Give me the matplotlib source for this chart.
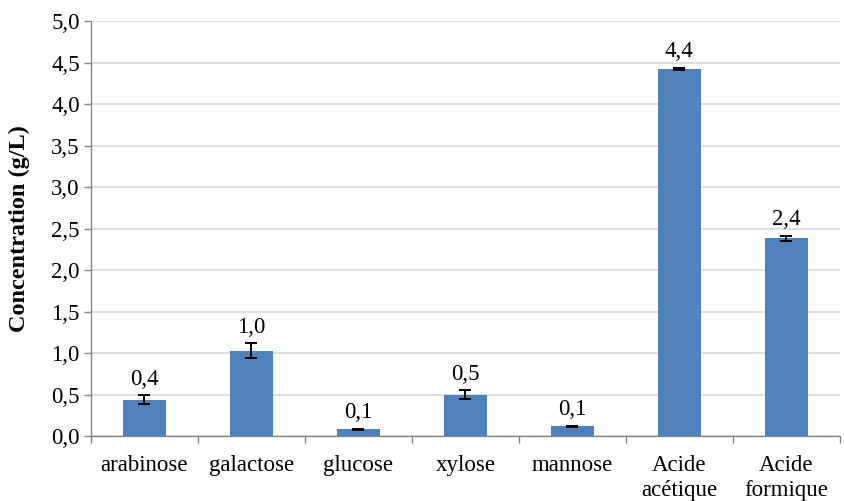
import matplotlib
matplotlib.use("Agg")
import matplotlib.pyplot as plt
import numpy as np

categories = ["arabinose", "galactose", "glucose", "xylose", "mannose", "Acide\nacétique", "Acide\nformique"]
values = [0.44, 1.03, 0.08, 0.50, 0.12, 4.42, 2.38]
errors = [0.05, 0.085, 0.006, 0.05, 0.006, 0.015, 0.03]
yticks = [0.0, 0.5, 1.0, 1.5, 2.0, 2.5, 3.0, 3.5, 4.0, 4.5, 5.0]

plt.rcParams['font.family'] = ['Liberation Serif', 'DejaVu Serif']
FS = 16.5

fig = plt.figure(figsize=(8.44, 5.01), dpi=100)
ax = fig.add_axes([0.1078, 0.1297, 0.995 - 0.1078, 0.958 - 0.1297])

x = np.arange(len(categories))
ax.bar(x, values, width=0.4, color="#4F81BD", zorder=3)
ax.errorbar(x, values, yerr=errors, fmt="none", ecolor="black", elinewidth=1.4,
            capsize=4, capthick=1.4, zorder=4)

for xi, v, e in zip(x, values, errors):
    ax.annotate(f"{v:.1f}".replace(".", ","), (xi, v + e), xytext=(0, 4),
                textcoords="offset points", ha="center", va="bottom", fontsize=FS)

ax.set_xlim(-0.5, len(categories) - 0.5)
ax.set_ylim(0, 5.0)
ax.set_yticks(yticks)
ax.set_yticklabels([f"{t:.1f}".replace(".", ",") for t in yticks], fontsize=FS)
ax.yaxis.grid(True, color="#D9D9D9", linewidth=1.2, zorder=0)
ax.set_axisbelow(True)

ax.set_xticks(x)
ax.set_xticklabels(categories, fontsize=FS, linespacing=1.2)
ax.set_xticks(np.arange(-0.5, len(categories)), minor=True)
ax.tick_params(axis="x", which="major", length=0, pad=14)
ax.tick_params(axis="x", which="minor", length=5, color="#868686", width=1)
ax.tick_params(axis="y", length=5, color="#868686", width=1, pad=3)

for s in ["top", "right"]:
    ax.spines[s].set_visible(False)
for s in ["left", "bottom"]:
    ax.spines[s].set_color("#868686")
    ax.spines[s].set_linewidth(1)

ax.set_ylabel("Concentration (g/L)", fontsize=17.5, fontweight="bold", labelpad=15)

fig.savefig("out.png", dpi=100)
